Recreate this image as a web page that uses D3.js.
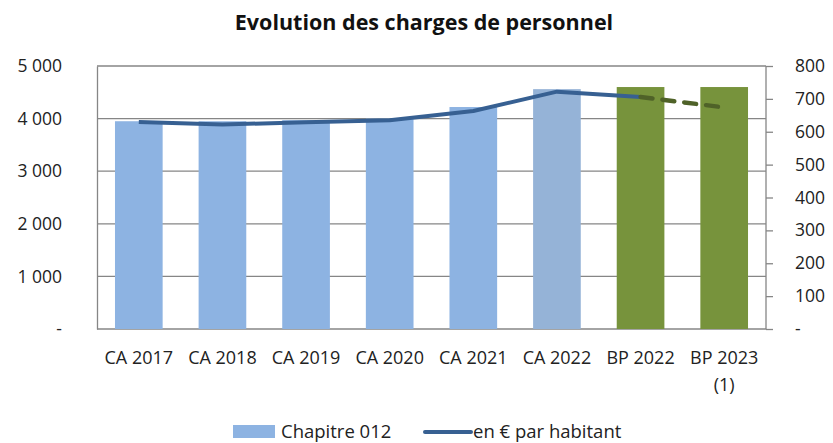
<!DOCTYPE html>
<html>
<head>
<meta charset="utf-8">
<script src="https://cdn.jsdelivr.net/npm/d3@7"></script>
<style>
body { margin: 0; background: #fff; }
svg { font-family: "Open Sans", sans-serif; }
</style>
</head>
<body>
<script>
// chart data
var categories = ["CA 2017", "CA 2018", "CA 2019", "CA 2020", "CA 2021", "CA 2022", "BP 2022", "BP 2023"];
var chapitre012 = [3950, 3950, 3970, 4000, 4220, 4560, 4600, 4600];
var parHabitant = [630, 622, 629, 635, 663, 722, 706, 674];
var leftTicks = [0, 1000, 2000, 3000, 4000, 5000];
var rightTicks = [0, 100, 200, 300, 400, 500, 600, 700, 800];
var barColors = ["#8db3e2", "#8db3e2", "#8db3e2", "#8db3e2", "#8db3e2", "#95b3d7", "#77933c", "#77933c"];

var W = 833, H = 443;
var plotL = 97, plotR = 766, plotT = 66, plotB = 329;

var svg = d3.select("body").append("svg")
	.attr("width", W)
	.attr("height", H);

var x = d3.scaleBand().domain(categories).range([plotL, plotR]).paddingInner(0.43).paddingOuter(0.215);
var y = d3.scaleLinear().domain([0, 5000]).range([plotB, plotT]);
var y2 = d3.scaleLinear().domain([0, 800]).range([plotB, plotT]);

function fmt(v) {
	if (v == 0) return "-";
	return d3.format(",")(v).replace(/,/g, " ");
}

// gridlines
svg.append("g")
	.selectAll("line")
	.data(leftTicks)
	.enter().append("line")
	.attr("x1", plotL).attr("x2", plotR)
	.attr("y1", function(d) { return y(d); })
	.attr("y2", function(d) { return y(d); })
	.style("stroke", "#868686")
	.style("stroke-width", 1.3);

// bars
svg.append("g")
	.selectAll("rect")
	.data(chapitre012)
	.enter().append("rect")
	.attr("x", function(d, i) { return x(categories[i]); })
	.attr("y", function(d) { return y(d); })
	.attr("width", x.bandwidth())
	.attr("height", function(d) { return plotB - y(d); })
	.style("fill", function(d, i) { return barColors[i]; });

// left axis
var leftAxis = svg.append("g")
	.attr("transform", "translate(" + plotL + ",0)")
	.call(d3.axisLeft(y).tickValues(leftTicks).tickFormat(fmt).tickSize(0).tickPadding(35));
leftAxis.select(".domain").style("stroke", "#868686").style("stroke-width", 1.3);

// right axis
var rightAxis = svg.append("g")
	.attr("transform", "translate(" + plotR + ",0)")
	.call(d3.axisRight(y2).tickValues(rightTicks).tickFormat(fmt).tickSize(7).tickPadding(22));
rightAxis.selectAll("line").style("stroke", "#868686").style("stroke-width", 1.3);
rightAxis.select(".domain").style("stroke", "#868686").style("stroke-width", 1.3).attr("d", "M0," + plotB + "V" + plotT);

svg.selectAll(".tick text")
	.style("font-family", "'Open Sans', sans-serif")
	.style("font-size", "17.5px")
	.style("fill", "#222");

// x labels
svg.append("g").selectAll("text")
	.data(categories)
	.enter().append("text")
	.attr("x", function(d) { return x(d) + x.bandwidth() / 2; })
	.attr("y", 364)
	.attr("text-anchor", "middle")
	.style("font-size", "18px")
	.style("fill", "#222")
	.text(function(d) { return d; });
svg.append("text")
	.attr("x", x("BP 2023") + x.bandwidth() / 2)
	.attr("y", 391)
	.attr("text-anchor", "middle")
	.style("font-size", "18px")
	.style("fill", "#222")
	.text("(1)");

// line
var xs = function(i) { return x(categories[i]) + x.bandwidth() / 2; };
var line = d3.line()
	.x(function(d) { return xs(d); })
	.y(function(d) { return y2(parHabitant[d]); });

svg.append("path")
	.attr("d", line(d3.range(0, 7)))
	.style("fill", "none")
	.style("stroke", "#376092")
	.style("stroke-width", 4)
	.style("stroke-linejoin", "round");

svg.append("path")
	.attr("d", line([6, 7]))
	.style("fill", "none")
	.style("stroke", "#4f6228")
	.style("stroke-width", 4.5)
	.style("stroke-dasharray", "12,10")
	.style("stroke-linecap", "round");

// title
svg.append("text")
	.attr("x", 424)
	.attr("y", 30)
	.attr("text-anchor", "middle")
	.style("font-size", "21.5px")
	.style("font-weight", "bold")
	.style("fill", "#111")
	.text("Evolution des charges de personnel");

// legend
svg.append("rect")
	.attr("x", 233).attr("y", 425)
	.attr("width", 42).attr("height", 13)
	.style("fill", "#8db3e2");
svg.append("text")
	.attr("x", 281).attr("y", 438)
	.style("font-size", "18.5px").style("fill", "#222")
	.text("Chapitre 012");
svg.append("line")
	.attr("x1", 425).attr("x2", 471)
	.attr("y1", 432).attr("y2", 432)
	.style("stroke", "#376092").style("stroke-width", 4)
	.style("stroke-linecap", "round");
svg.append("text")
	.attr("x", 473).attr("y", 438)
	.style("font-size", "18.5px").style("fill", "#222")
	.text("en € par habitant");
</script>
</body>
</html>
